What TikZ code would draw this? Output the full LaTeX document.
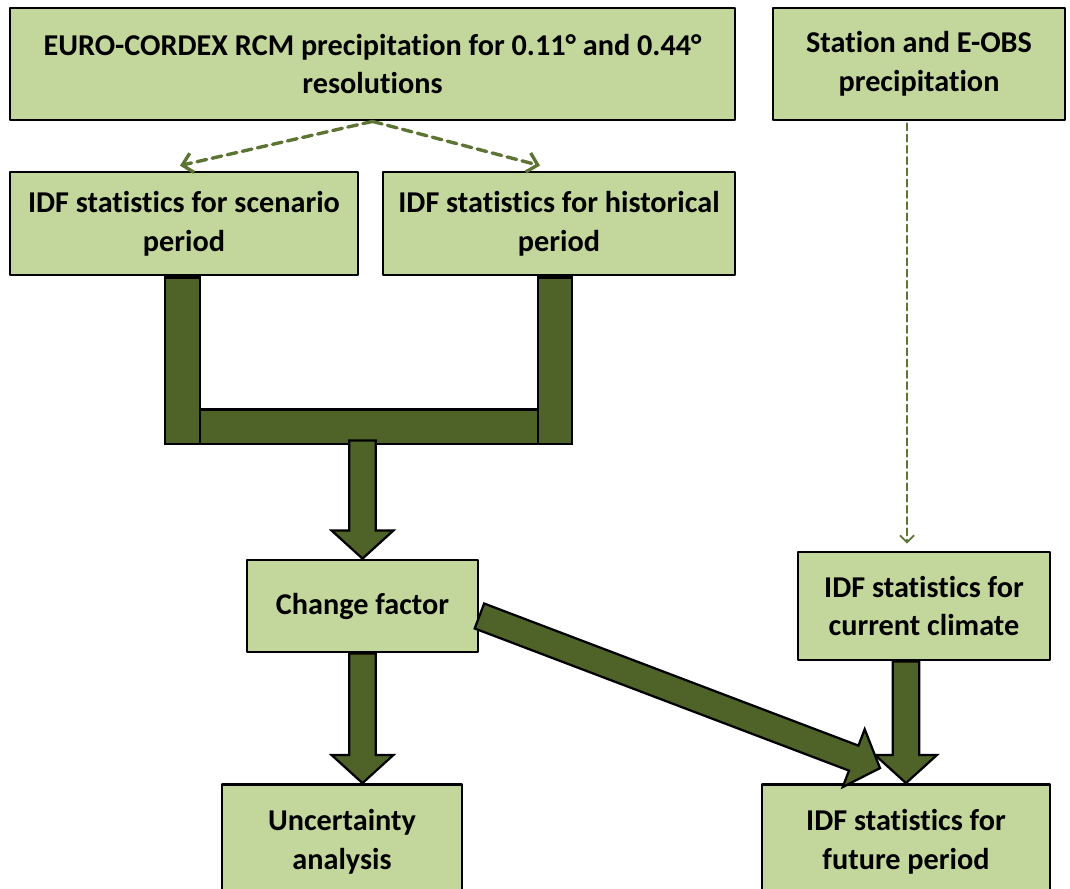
\documentclass[tikz,border=0pt]{standalone}
\usepackage{fontspec}
\setmainfont{Carlito}[Ligatures=NoCommon]
\usetikzlibrary{arrows.meta, calc}

\definecolor{boxgreen}{HTML}{C3D69B}
\definecolor{darkolive}{HTML}{4F6228}
\definecolor{dashgreen}{HTML}{5E7434}

\tikzset{
  flowbox/.style={draw=black, line width=2pt, fill=boxgreen, align=center,
    font=\bfseries\fontsize{21.5}{27.7}\selectfont, inner sep=0pt},
  fatarrow/.style={draw=black, line width=1.6pt, fill=darkolive, line join=miter},
  dasharrow/.style={draw=dashgreen, line width=2.4pt, dash pattern=on 7pt off 4pt,
    -{Straight Barb[length=7pt, width=14pt]}},
  thindash/.style={draw=dashgreen, line width=1.3pt, dash pattern=on 5pt off 3pt,
    -{Straight Barb[length=5pt, width=10pt]}}
}

% thick arrow drawn as an outlined polygon between two named points
\newcommand{\fatarrow}[2]{%
  \coordinate (fa-h) at ($(#2)!20pt!(#1)$);
  \draw[fatarrow] ($(#1)!9.5pt!90:(#2)$) -- ($(fa-h)!9.5pt!90:(#2)$)
    -- ($(fa-h)!22pt!90:(#2)$) -- (#2) -- ($(fa-h)!22pt!-90:(#2)$)
    -- ($(fa-h)!9.5pt!-90:(#2)$) -- ($(#1)!9.5pt!-90:(#2)$) -- cycle;
}

\begin{document}
\begin{tikzpicture}[line cap=round,line join=round,>={Straight Barb},x=0.025cm,y=-0.025cm]
\clip (0,0) rectangle (1070,888);
\useasboundingbox (0,0) rectangle (1070,888);

% boxes
\node[flowbox, minimum width=725*0.025cm, minimum height=112*0.025cm] (rcm) at (372.5,64)
  {EURO-CORDEX RCM precipitation for 0.11° and 0.44°\\resolutions};
\node[flowbox, minimum width=292*0.025cm, minimum height=112*0.025cm] (obs) at (919,64)
  {Station and E-OBS\\precipitation};

\node[flowbox, minimum width=348*0.025cm, minimum height=103*0.025cm] (scen) at (184,223.5)
  {IDF statistics for scenario\\period};
\node[flowbox, minimum width=352*0.025cm, minimum height=103*0.025cm] (hist) at (559,223.5)
  {IDF statistics for historical\\period};

\node[flowbox, minimum width=231*0.025cm, minimum height=92*0.025cm] (change) at (362.5,606)
  {Change factor};
\node[flowbox, minimum width=252*0.025cm, minimum height=108*0.025cm] (current) at (924,606)
  {IDF statistics for\\current climate};

\node[flowbox, minimum width=240*0.025cm, minimum height=115*0.025cm] (uncert) at (342,842)
  {Uncertainty\\analysis};
\node[flowbox, minimum width=288*0.025cm, minimum height=115*0.025cm] (future) at (906,842)
  {IDF statistics for\\future period};

% dashed links
\draw[dasharrow] (rcm.south) -- ($(scen.north)+(-4,-5)$);
\draw[dasharrow] (rcm.south) -- ($(hist.north)+(-19,-5)$);
\draw[thindash] ($(obs.south)+(-12,2)$) -- ($(obs.south |- current.north)+(-12,-7)$);

% bracket joining the two IDF boxes
\coordinate (join) at ($(change.north)+(0,-118)$);
\draw[fatarrow] ($(scen.south)+(-19,1)$) rectangle ($(scen.south)+(16,167.5)$);
\draw[fatarrow] ($(hist.south)+(-21,1)$) rectangle ($(hist.south)+(13,167.5)$);
\draw[fatarrow] ($(scen.south)+(16,133)$) rectangle ($(hist.south)+(-21,167.5)$);

% thick arrows
\fatarrow{join}{change.north}
\coordinate (unc-in) at (change.south |- uncert.north);
\fatarrow{change.south}{unc-in}
\coordinate (cur-out) at (future.north |- current.south);
\fatarrow{cur-out}{future.north}
\coordinate (diag-in) at ($(change.east)+(0,10)$);
\coordinate (diag-tip) at ($(future.north)+(-26,-15)$);
\fatarrow{diag-in}{diag-tip}

\end{tikzpicture}
\end{document}
